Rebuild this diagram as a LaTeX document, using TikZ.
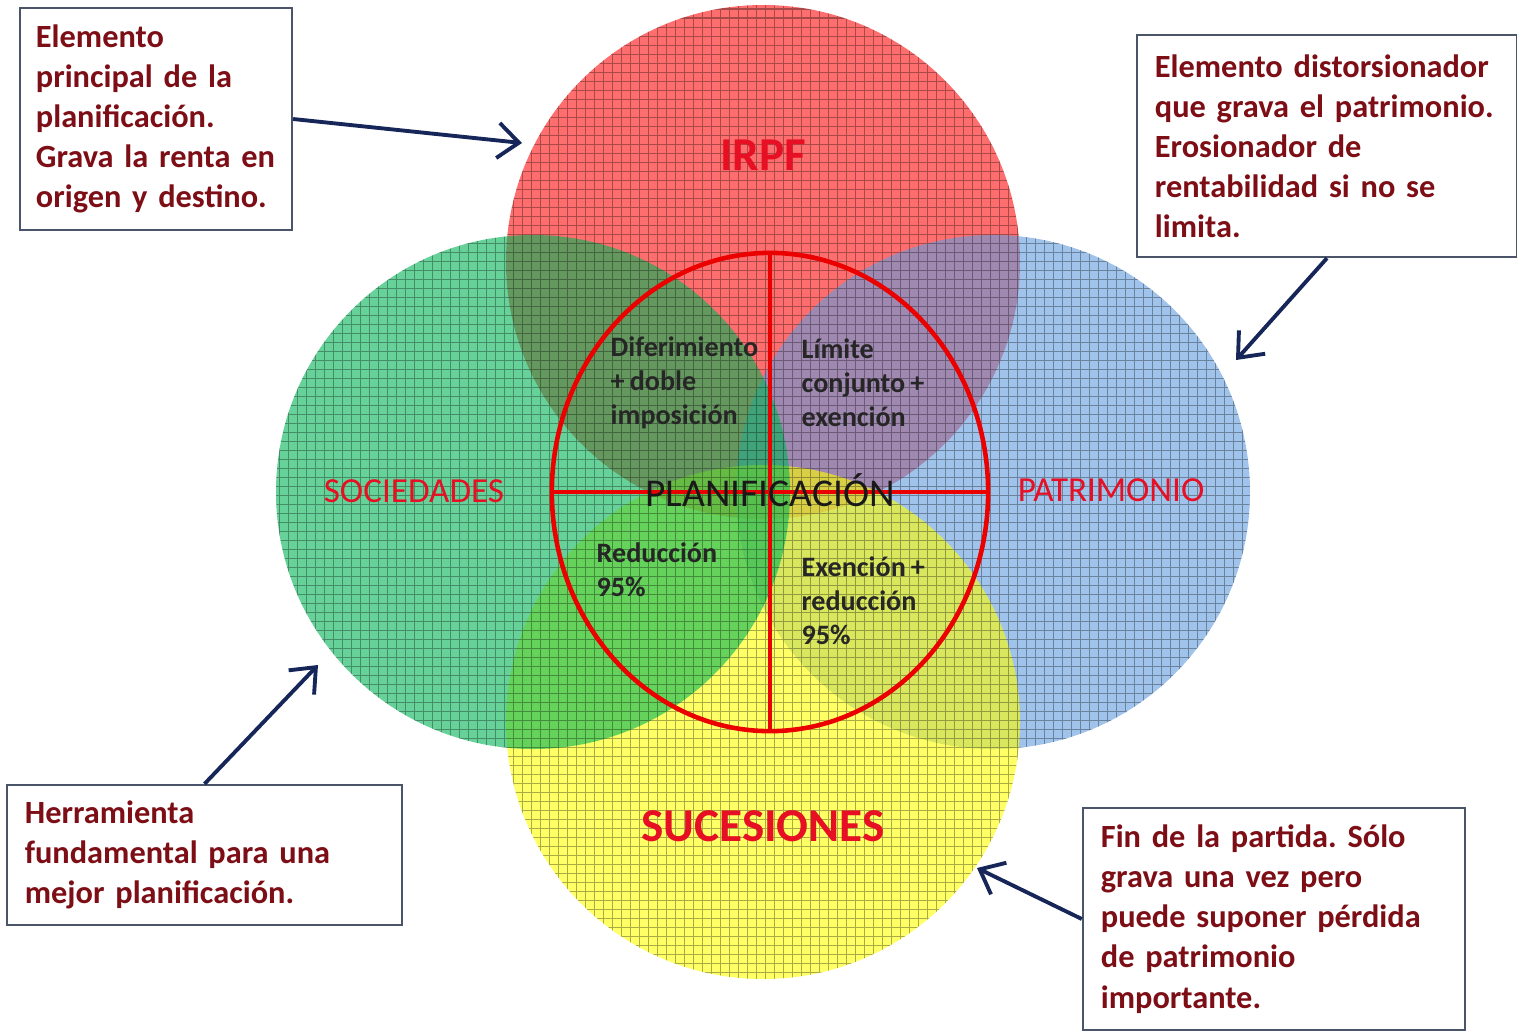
\documentclass[tikz,border=0pt]{standalone}
\usepackage{fontspec}
\setmainfont{Carlito}[WordSpace=0.8]
\usetikzlibrary{arrows.meta, shapes.geometric}
\frenchspacing

\definecolor{irpfred}{RGB}{255,13,13}
\definecolor{patblue}{RGB}{97,155,222}
\definecolor{sucyellow}{RGB}{255,255,0}
\definecolor{socgreen}{RGB}{0,180,85}
\definecolor{tagred}{RGB}{230,15,35}
\definecolor{notered}{RGB}{125,14,22}
\definecolor{boxgray}{RGB}{75,85,105}
\definecolor{navy}{RGB}{22,38,88}

\begin{document}
\begin{tikzpicture}[x=0.01cm, y=-0.01cm,
    >={Straight Barb[length=6pt, width=10pt]},
    disc/.style={fill=#1, fill opacity=0.6},
    gridline/.style={draw=black, opacity=0.33, line width=0.3pt},
    ringline/.style={draw=red!92!black, line width=1.3pt},
    note/.style={draw=boxgray, line width=0.6pt, fill=white, text=notered,
        font=\bfseries\fontsize{9.2}{11.4}\selectfont, align=left,
        inner xsep=0.18cm, inner ysep=0pt},
    bigtag/.style={font=\bfseries\fontsize{13.4}{16}\selectfont, text=tagred},
    tag/.style={font=\fontsize{10}{12}\selectfont, text=tagred},
    quad/.style={font=\bfseries\fontsize{8}{9.7}\selectfont, text=black!85,
        align=left, anchor=west, inner sep=0pt},
    pointer/.style={->, draw=navy, line width=1.1pt}]
  \useasboundingbox (0,0) rectangle (1517,1032);

  % the four taxes
  \coordinate (cirpf) at (763,262);
  \coordinate (cpat) at (993,492);
  \coordinate (csuc) at (763,722);
  \coordinate (csoc) at (533,492);
  \fill[disc=irpfred] (cirpf) circle (257);
  \fill[disc=patblue] (cpat) circle (257);
  \fill[disc=sucyellow] (csuc) circle (257);
  \fill[disc=socgreen] (csoc) circle (257);
  \begin{scope}
    \clip (cirpf) circle (257) (cpat) circle (257) (csuc) circle (257) (csoc) circle (257);
    \draw[gridline, step=0.09cm] (0,0) grid (1517,1032);
  \end{scope}

  % planning ring
  \node[ellipse, ringline, minimum width=4.36cm, minimum height=4.78cm, inner sep=0pt] (ring) at (770,492) {};
  \draw[ringline] (ring.north) -- (ring.south);
  \draw[ringline] (ring.west) -- (ring.east);

  \node[bigtag] (irpf) at (763,155) {IRPF};
  \node[bigtag] (suc) at (763,826) {SUCESIONES};
  \node[tag] (soc) at (414,491) {SOCIEDADES};
  \node[tag] (pat) at (1111,490) {PATRIMONIO};
  \node[font=\fontsize{11.2}{13}\selectfont, text=black!90] (plan) at (770,490) {PLANIFICACIÓN};

  \node[quad] (q1) at (610,383) {Diferimiento\\+ doble\\imposición};
  \node[quad] (q2) at (801,383) {Límite\\conjunto +\\exención};
  \node[quad] (q3) at (596,570) {Reducción\\95\%};
  \node[quad] (q4) at (801,601) {Exención +\\reducción\\95\%};

  % notes
  \node[note, inner xsep=0.16cm, minimum width=2.72cm, minimum height=2.22cm, text width=2.4cm] (n1) at (156,119)
    {Elemento\\principal de la\\planificación.\\Grava la renta en\\origen y destino.};
  \node[note, minimum width=3.8cm, minimum height=2.22cm, text width=3.44cm] (n2) at (1327,146)
    {Elemento distorsionador\\que grava el patrimonio.\\Erosionador de\\rentabilidad si no se\\limita.};
  \node[note, minimum width=3.95cm, minimum height=1.4cm, text width=3.59cm] (n3) at (204.5,855)
    {Herramienta\\fundamental para una\\mejor planificación.};
  \node[note, minimum width=3.82cm, minimum height=2.22cm, text width=3.46cm] (n4) at (1274,919)
    {Fin de la partida. Sólo\\grava una vez pero\\puede suponer pérdida\\de patrimonio\\importante.};

  \coordinate (t1) at (522,143);
  \coordinate (t2) at (1236,360);
  \coordinate (t3) at (318,665);
  \coordinate (t4) at (977,868);
  \draw[pointer] (n1.east) -- (t1);
  \draw[pointer] (n2.south) -- (t2);
  \draw[pointer] (n3.north) -- (t3);
  \draw[pointer] (n4.west) -- (t4);
\end{tikzpicture}
\end{document}
